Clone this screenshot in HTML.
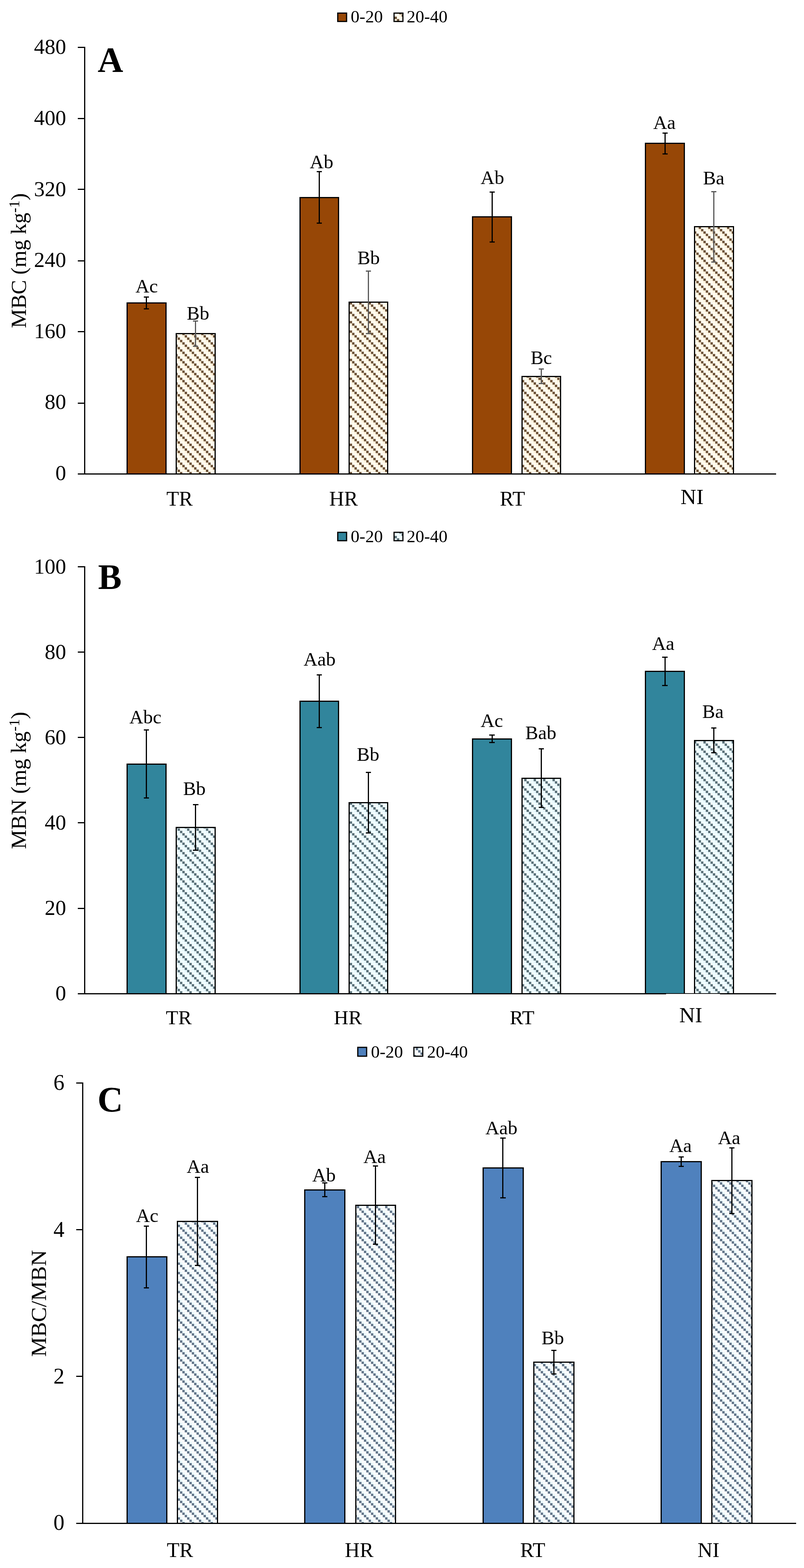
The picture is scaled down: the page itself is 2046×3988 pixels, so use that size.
<!DOCTYPE html>
<html lang="en"><head><meta charset="utf-8">
<title>MBC, MBN and MBC/MBN by treatment and depth</title>
<style>
html,body{margin:0;padding:0;background:#fff;}
body{width:2046px;height:3988px;overflow:hidden;}
svg{display:block;}
text{font-family:"Liberation Serif", serif;fill:#000;}
.tk{text-anchor:end;}
.lb{font-size:49px;text-anchor:middle;}
.ct{text-anchor:middle;}
.lt{font-weight:bold;}
.yt{text-anchor:middle;}
.ax{fill:#000;shape-rendering:crispEdges;}
.br{stroke:#000;stroke-width:3;shape-rendering:crispEdges;}
.eb{stroke-width:3;fill:none;shape-rendering:crispEdges;}
.sw{stroke:#000;stroke-width:3;}
</style></head><body>
<svg width="2046" height="3988" viewBox="0 0 2046 3988">
<defs>
<pattern id="pA" width="24" height="24" patternUnits="userSpaceOnUse" patternTransform="translate(2 0.4)">
<rect width="24" height="24" fill="#FFFBEE"/>
<rect x="18" y="0" width="6" height="6" fill="#FFF2DC"/>
<rect x="0" y="0" width="6" height="6" fill="#6C5238"/>
<rect x="0" y="6" width="6" height="6" fill="#FFF2DC"/>
<rect x="6" y="6" width="6" height="6" fill="#6C5238"/>
<rect x="6" y="12" width="6" height="6" fill="#FFF2DC"/>
<rect x="12" y="12" width="6" height="6" fill="#6C5238"/>
<rect x="12" y="18" width="6" height="6" fill="#FFF2DC"/>
<rect x="18" y="18" width="6" height="6" fill="#6C5238"/>
</pattern>
<pattern id="pB" width="24" height="24" patternUnits="userSpaceOnUse" patternTransform="translate(2 1)">
<rect width="24" height="24" fill="#F0FDFF"/>
<rect x="18" y="0" width="6" height="6" fill="#E6F6FB"/>
<rect x="0" y="0" width="6" height="6" fill="#5C727A"/>
<rect x="0" y="6" width="6" height="6" fill="#E6F6FB"/>
<rect x="6" y="6" width="6" height="6" fill="#5C727A"/>
<rect x="6" y="12" width="6" height="6" fill="#E6F6FB"/>
<rect x="12" y="12" width="6" height="6" fill="#5C727A"/>
<rect x="12" y="18" width="6" height="6" fill="#E6F6FB"/>
<rect x="18" y="18" width="6" height="6" fill="#5C727A"/>
</pattern>
<pattern id="pC" width="24" height="24" patternUnits="userSpaceOnUse" patternTransform="translate(2 1)">
<rect width="24" height="24" fill="#F9FBFC"/>
<rect x="6" y="0" width="6" height="6" fill="#EAF9FD"/>
<rect x="0" y="0" width="6" height="6" fill="#65778B"/>
<rect x="12" y="6" width="6" height="6" fill="#EAF9FD"/>
<rect x="6" y="6" width="6" height="6" fill="#65778B"/>
<rect x="18" y="12" width="6" height="6" fill="#EAF9FD"/>
<rect x="12" y="12" width="6" height="6" fill="#65778B"/>
<rect x="0" y="18" width="6" height="6" fill="#EAF9FD"/>
<rect x="18" y="18" width="6" height="6" fill="#65778B"/>
</pattern>
</defs>
<rect width="2046" height="3988" fill="#fff"/>
<g id="chartA">
<rect class="br" x="323.5" y="770.5" width="99" height="435" fill="#974706"/>
<rect class="br" x="448.5" y="848.5" width="99" height="357" fill="url(#pA)"/>
<rect class="br" x="763.5" y="502.5" width="98" height="703" fill="#974706"/>
<rect class="br" x="888.5" y="768.5" width="98" height="437" fill="url(#pA)"/>
<rect class="br" x="1202.5" y="551.5" width="99" height="654" fill="#974706"/>
<rect class="br" x="1328.5" y="957.5" width="98" height="248" fill="url(#pA)"/>
<rect class="br" x="1642.5" y="364.5" width="99" height="841" fill="#974706"/>
<rect class="br" x="1767.5" y="576.5" width="99" height="629" fill="url(#pA)"/>
<rect class="ax" x="214" y="119" width="3" height="1088"/>
<rect class="ax" x="198" y="1204" width="1777" height="3"/>
<rect class="ax" x="198" y="1024" width="17.5" height="3"/>
<rect class="ax" x="198" y="842" width="17.5" height="3"/>
<rect class="ax" x="198" y="662" width="17.5" height="3"/>
<rect class="ax" x="198" y="480" width="17.5" height="3"/>
<rect class="ax" x="198" y="300" width="17.5" height="3"/>
<rect class="ax" x="198" y="119" width="17.5" height="3"/>
<text class="tk" font-size="54.5" x="168.3" y="1220.8">0</text>
<text class="tk" font-size="54.5" x="168.3" y="1040.24">80</text>
<text class="tk" font-size="54.5" x="168.3" y="859.68">160</text>
<text class="tk" font-size="54.5" x="168.3" y="679.12">240</text>
<text class="tk" font-size="54.5" x="168.3" y="498.56">320</text>
<text class="tk" font-size="54.5" x="168.3" y="318">400</text>
<text class="tk" font-size="54.5" x="168.3" y="137.44">480</text>
<path class="eb" stroke="#000" d="M372.5 755.5 V785.5 M365.75 755.5 H379.25 M365.75 785.5 H379.25"/>
<path class="eb" stroke="#595959" d="M497.5 816.5 V880.5 M490.75 816.5 H504.25 M490.75 880.5 H504.25"/>
<path class="eb" stroke="#000" d="M812.5 436.5 V567.5 M805.75 436.5 H819.25 M805.75 567.5 H819.25"/>
<path class="eb" stroke="#595959" d="M937.5 689.5 V848.5 M930.75 689.5 H944.25 M930.75 848.5 H944.25"/>
<path class="eb" stroke="#000" d="M1252.5 488.5 V615.5 M1245.75 488.5 H1259.25 M1245.75 615.5 H1259.25"/>
<path class="eb" stroke="#595959" d="M1377.5 938.5 V975.5 M1370.75 938.5 H1384.25 M1370.75 975.5 H1384.25"/>
<path class="eb" stroke="#000" d="M1692.5 338.5 V391.5 M1685.75 338.5 H1699.25 M1685.75 391.5 H1699.25"/>
<path class="eb" stroke="#595959" d="M1816.5 487.5 V666.5 M1809.75 487.5 H1823.25 M1809.75 666.5 H1823.25"/>
<text class="lb" x="373.3" y="743.5">Ac</text>
<text class="lb" x="503.9" y="813.2">Bb</text>
<text class="lb" x="818.2" y="428.3">Ab</text>
<text class="lb" x="938" y="671.7">Bb</text>
<text class="lb" x="1253" y="468">Ab</text>
<text class="lb" x="1377.4" y="926">Bc</text>
<text class="lb" x="1690.8" y="328">Aa</text>
<text class="lb" x="1816.2" y="468.5">Ba</text>
<text class="ct" font-size="52.5" x="457" y="1285.8">TR</text>
<text class="ct" font-size="52.5" x="874.2" y="1285.8">HR</text>
<text class="ct" font-size="52.5" x="1304" y="1285.8">RT</text>
<text class="ct" font-size="55.5" x="1761.1" y="1282.4">NI</text>
<rect class="sw" x="859.5" y="33.3" width="22.5" height="21.3" fill="#974706"/>
<text font-size="44.5" x="892.6" y="56.9">0-20</text>
<rect class="sw" x="1002.8" y="33.3" width="22.5" height="21.3" fill="url(#pA)"/>
<text font-size="44.5" x="1035" y="56.9">20-40</text>
<text class="lt" font-size="90" x="248.5" y="183">A</text>
<text class="yt" font-size="54.5" transform="translate(65.8 663) rotate(-90) scale(1.01 1)">MBC (mg kg<tspan font-size="37" dy="-17.1">-1</tspan><tspan dy="17.1">)</tspan></text>
</g>
<g id="chartB">
<rect class="br" x="323.5" y="1943.5" width="99" height="584" fill="#31859C"/>
<rect class="br" x="448.5" y="2104.5" width="99" height="423" fill="url(#pB)"/>
<rect class="br" x="763.5" y="1783.5" width="98" height="744" fill="#31859C"/>
<rect class="br" x="888.5" y="2041.5" width="98" height="486" fill="url(#pB)"/>
<rect class="br" x="1202.5" y="1879.5" width="99" height="648" fill="#31859C"/>
<rect class="br" x="1328.5" y="1979.5" width="98" height="548" fill="url(#pB)"/>
<rect class="br" x="1642.5" y="1707.5" width="99" height="820" fill="#31859C"/>
<rect class="br" x="1767.5" y="1883.5" width="99" height="644" fill="url(#pB)"/>
<rect class="ax" x="214" y="1440" width="3" height="1089"/>
<rect class="ax" x="198" y="2526" width="1777" height="3"/>
<rect class="ax" x="198" y="2309" width="17.5" height="3"/>
<rect class="ax" x="198" y="2091" width="17.5" height="3"/>
<rect class="ax" x="198" y="1874" width="17.5" height="3"/>
<rect class="ax" x="198" y="1657" width="17.5" height="3"/>
<rect class="ax" x="198" y="1440" width="17.5" height="3"/>
<rect x="1695" y="2527.8" width="137.2" height="60" fill="#fff"/>
<text class="tk" font-size="54.5" x="168.3" y="2543.6">0</text>
<text class="tk" font-size="54.5" x="168.3" y="2326.7">20</text>
<text class="tk" font-size="54.5" x="168.3" y="2109.8">40</text>
<text class="tk" font-size="54.5" x="168.3" y="1892.9">60</text>
<text class="tk" font-size="54.5" x="168.3" y="1676">80</text>
<text class="tk" font-size="54.5" x="168.3" y="1459.1">100</text>
<path class="eb" stroke="#000" d="M372.4 1856.4 V2029.4 M365.65 1856.4 H379.15 M365.65 2029.4 H379.15"/>
<path class="eb" stroke="#000" d="M497.9 2046.4 V2162.5 M491.15 2046.4 H504.65 M491.15 2162.5 H504.65"/>
<path class="eb" stroke="#000" d="M812.5 1716.3 V1850.2 M805.75 1716.3 H819.25 M805.75 1850.2 H819.25"/>
<path class="eb" stroke="#000" d="M937.5 1964 V2118.4 M930.75 1964 H944.25 M930.75 2118.4 H944.25"/>
<path class="eb" stroke="#000" d="M1252 1869.5 V1888.9 M1245.25 1869.5 H1258.75 M1245.25 1888.9 H1258.75"/>
<path class="eb" stroke="#000" d="M1377.4 1904.3 V2053.4 M1370.65 1904.3 H1384.15 M1370.65 2053.4 H1384.15"/>
<path class="eb" stroke="#000" d="M1692 1671.4 V1743.4 M1685.25 1671.4 H1698.75 M1685.25 1743.4 H1698.75"/>
<path class="eb" stroke="#000" d="M1816.7 1851.7 V1914.3 M1809.95 1851.7 H1823.45 M1809.95 1914.3 H1823.45"/>
<text class="lb" x="370" y="1840.3">Abc</text>
<text class="lb" x="494.7" y="2021.9">Bb</text>
<text class="lb" x="813.3" y="1692.9">Aab</text>
<text class="lb" x="936.7" y="1935.3">Bb</text>
<text class="lb" x="1251.5" y="1849.2">Ac</text>
<text class="lb" x="1376.3" y="1880.4">Bab</text>
<text class="lb" x="1687.7" y="1653.4">Aa</text>
<text class="lb" x="1814.2" y="1826.3">Ba</text>
<text class="ct" font-size="51.5" x="455" y="2605">TR</text>
<text class="ct" font-size="51.5" x="885.3" y="2605">HR</text>
<text class="ct" font-size="51.5" x="1328.7" y="2605">RT</text>
<text class="ct" font-size="55.5" x="1757.9" y="2599.8">NI</text>
<rect class="sw" x="859.5" y="1353.9" width="22.5" height="21.3" fill="#31859C"/>
<text font-size="44.5" x="892.6" y="1378.8">0-20</text>
<rect class="sw" x="1002.8" y="1353.9" width="22.5" height="21.3" fill="url(#pB)"/>
<text font-size="44.5" x="1035" y="1378.8">20-40</text>
<text class="lt" font-size="90" x="249.4" y="1498.3">B</text>
<text class="yt" font-size="54.5" transform="translate(65.8 1984.9) rotate(-90) scale(1.02 1)">MBN (mg kg<tspan font-size="37" dy="-17.1">-1</tspan><tspan dy="17.1">)</tspan></text>
</g>
<g id="chartC">
<rect class="br" x="323.5" y="3196.5" width="101" height="678" fill="#4F81BD"/>
<rect class="br" x="451.5" y="3106.5" width="102" height="768" fill="url(#pC)"/>
<rect class="br" x="775.5" y="3026.5" width="102" height="848" fill="#4F81BD"/>
<rect class="br" x="905.5" y="3065.5" width="101" height="809" fill="url(#pC)"/>
<rect class="br" x="1229.5" y="2970.5" width="102" height="904" fill="#4F81BD"/>
<rect class="br" x="1358.5" y="3464.5" width="102" height="410" fill="url(#pC)"/>
<rect class="br" x="1682.5" y="2954.5" width="102" height="920" fill="#4F81BD"/>
<rect class="br" x="1811.5" y="3002.5" width="102" height="872" fill="url(#pC)"/>
<rect class="ax" x="209" y="2753" width="3" height="1123"/>
<rect class="ax" x="194" y="3873" width="1832" height="3"/>
<rect class="ax" x="194" y="3499" width="16.5" height="3"/>
<rect class="ax" x="194" y="3126" width="16.5" height="3"/>
<rect class="ax" x="194" y="2753" width="16.5" height="3"/>
<text class="tk" font-size="56" x="164" y="3891.2">0</text>
<text class="tk" font-size="56" x="164" y="3519.2">2</text>
<text class="tk" font-size="56" x="164" y="3145.8">4</text>
<text class="tk" font-size="56" x="164" y="2772">6</text>
<path class="eb" stroke="#000" d="M372.6 3118.5 V3275.5 M365.85 3118.5 H379.35 M365.85 3275.5 H379.35"/>
<path class="eb" stroke="#000" d="M502.6 2994.6 V3218.3 M495.85 2994.6 H509.35 M495.85 3218.3 H509.35"/>
<path class="eb" stroke="#000" d="M826.5 3008.8 V3043.4 M819.75 3008.8 H833.25 M819.75 3043.4 H833.25"/>
<path class="eb" stroke="#000" d="M955.6 2965.2 V3164.8 M948.85 2965.2 H962.35 M948.85 3164.8 H962.35"/>
<path class="eb" stroke="#000" d="M1279.9 2894.8 V3046.5 M1273.15 2894.8 H1286.65 M1273.15 3046.5 H1286.65"/>
<path class="eb" stroke="#000" d="M1409.4 3434.3 V3494.6 M1402.65 3434.3 H1416.15 M1402.65 3494.6 H1416.15"/>
<path class="eb" stroke="#000" d="M1733.4 2942 V2966 M1726.65 2942 H1740.15 M1726.65 2966 H1740.15"/>
<path class="eb" stroke="#000" d="M1862.6 2919.6 V3086 M1855.85 2919.6 H1869.35 M1855.85 3086 H1869.35"/>
<text class="lb" x="374.5" y="3108.4">Ac</text>
<text class="lb" x="503.5" y="2982.6">Aa</text>
<text class="lb" x="824.4" y="3004.8">Ab</text>
<text class="lb" x="953.3" y="2957.8">Aa</text>
<text class="lb" x="1276" y="2884.9">Aab</text>
<text class="lb" x="1406.7" y="3418.8">Bb</text>
<text class="lb" x="1731.8" y="2930.2">Aa</text>
<text class="lb" x="1855.5" y="2909.7">Aa</text>
<text class="ct" font-size="52.5" x="458" y="3959.7">TR</text>
<text class="ct" font-size="52.5" x="914" y="3959.7">HR</text>
<text class="ct" font-size="52.5" x="1355.7" y="3959.7">RT</text>
<text class="ct" font-size="52.5" x="1803" y="3959.7">NI</text>
<rect class="sw" x="910.5" y="2663.8" width="22.5" height="22.5" fill="#4F81BD"/>
<text font-size="44.5" x="944" y="2689.6">0-20</text>
<rect class="sw" x="1053.3" y="2663.8" width="22.5" height="22.5" fill="url(#pC)"/>
<text font-size="44.5" x="1086.8" y="2689.6">20-40</text>
<text class="lt" font-size="90" x="247.9" y="2826.5">C</text>
<text class="yt" font-size="54.2" transform="translate(117.2 3315.1) rotate(-90) scale(1.05 1)">MBC/MBN</text>
</g>
</svg>
</body></html>
